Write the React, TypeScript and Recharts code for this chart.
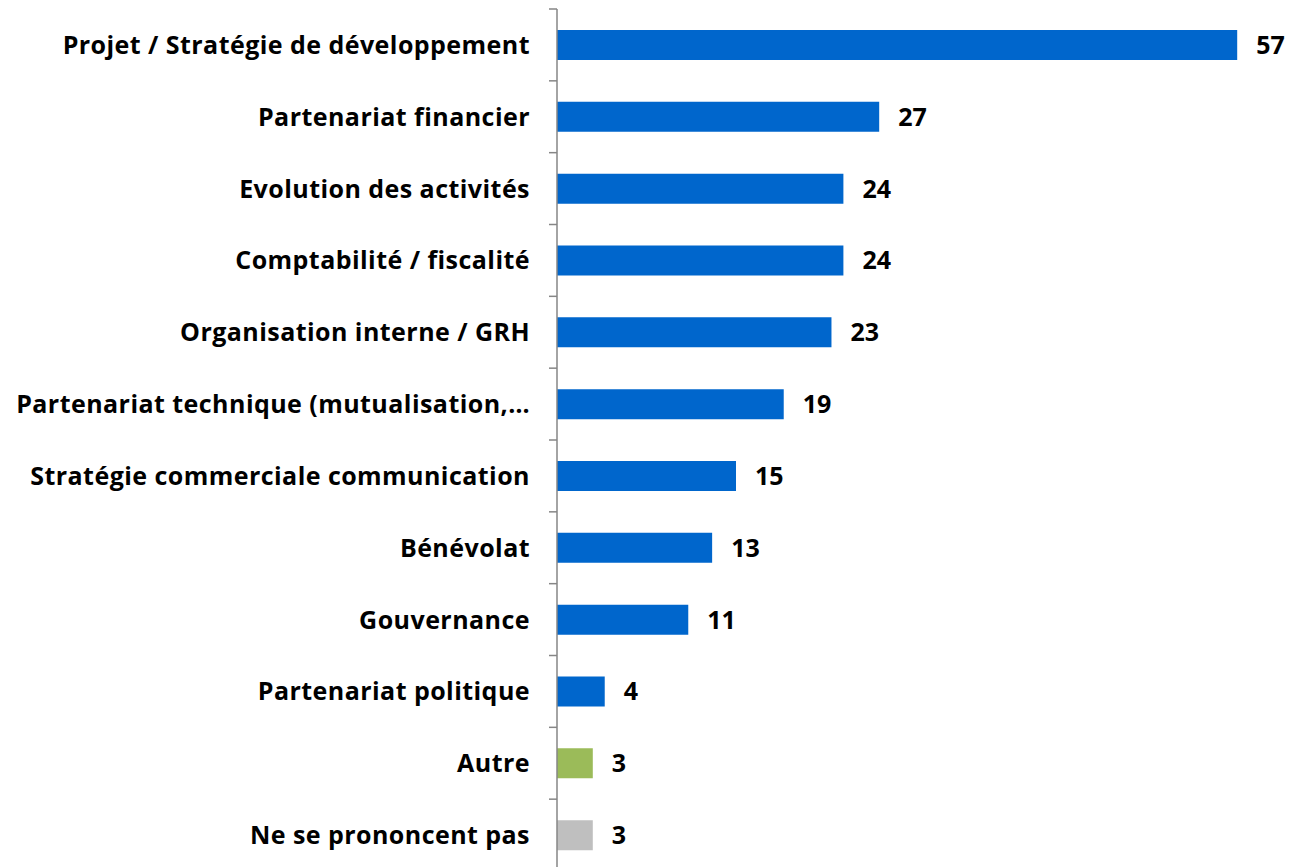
import React from 'react';
import { BarChart, Bar, XAxis, YAxis, Cell, LabelList } from 'recharts';

const categories = [
  'Projet / Stratégie de développement',
  'Partenariat financier',
  'Evolution des activités',
  'Comptabilité / fiscalité',
  'Organisation interne / GRH',
  'Partenariat technique (mutualisation,…',
  'Stratégie commerciale communication',
  'Bénévolat',
  'Gouvernance',
  'Partenariat politique',
  'Autre',
  'Ne se prononcent pas',
];
const values = [57, 27, 24, 24, 23, 19, 15, 13, 11, 4, 3, 3];
const colors = [
  '#0066CC', '#0066CC', '#0066CC', '#0066CC', '#0066CC', '#0066CC',
  '#0066CC', '#0066CC', '#0066CC', '#0066CC', '#9BBB59', '#BFBFBF',
];

const data = categories.map((name, i) => ({ name, value: values[i], color: colors[i] }));

const CHART_W = 1291;
const CHART_H = 880;
const MARGIN = { top: 9, right: 18, bottom: 9, left: 0 };
const AXIS_W = 557;
const TICK_SIZE = 8;
const TICK_MARGIN = 19;
const FONT = '"Open Sans", Lato, sans-serif';
const AXIS_COLOR = '#868686';

const CategoryTick = (props: any) => {
  const { x, y, payload, index } = props;
  const band = (CHART_H - MARGIN.top - MARGIN.bottom) / categories.length;
  const lx2 = x + TICK_MARGIN + TICK_SIZE;
  const lx1 = x + TICK_MARGIN;
  return (
    <g>
      <text
        x={x}
        y={y}
        dy="0.36em"
        textAnchor="end"
        fontFamily={FONT}
        fontWeight={700}
        fontSize={25}
        letterSpacing={0.45}
        fill="#000"
      >
        {payload.value}
      </text>
      <line x1={lx1} x2={lx2} y1={y - band / 2} y2={y - band / 2} stroke={AXIS_COLOR} strokeWidth={1.5} />
      {index === categories.length - 1 && (
        <line x1={lx1} x2={lx2} y1={y + band / 2} y2={y + band / 2} stroke={AXIS_COLOR} strokeWidth={1.5} />
      )}
    </g>
  );
};

export default function App() {
  return (
    <div style={{ position: 'absolute', left: 0, top: 0, width: 1291, height: 867, overflow: 'hidden', background: '#fff' }}>
      <BarChart width={CHART_W} height={CHART_H} data={data} layout="vertical" margin={MARGIN}>
        <XAxis type="number" domain={[0, 60]} hide />
        <YAxis
          type="category"
          dataKey="name"
          width={AXIS_W}
          tickLine={false}
          tickSize={TICK_SIZE}
          tickMargin={TICK_MARGIN}
          axisLine={{ stroke: AXIS_COLOR, strokeWidth: 1.5 }}
          tick={<CategoryTick />}
          interval={0}
        />
        <Bar dataKey="value" barSize={30} isAnimationActive={false}>
          {data.map((d, i) => (
            <Cell key={i} fill={d.color} />
          ))}
          <LabelList
            dataKey="value"
            position="right"
            offset={19}
            fill="#000"
            fontFamily={FONT}
            fontWeight={700}
            fontSize={25}
          />
        </Bar>
      </BarChart>
    </div>
  );
}
